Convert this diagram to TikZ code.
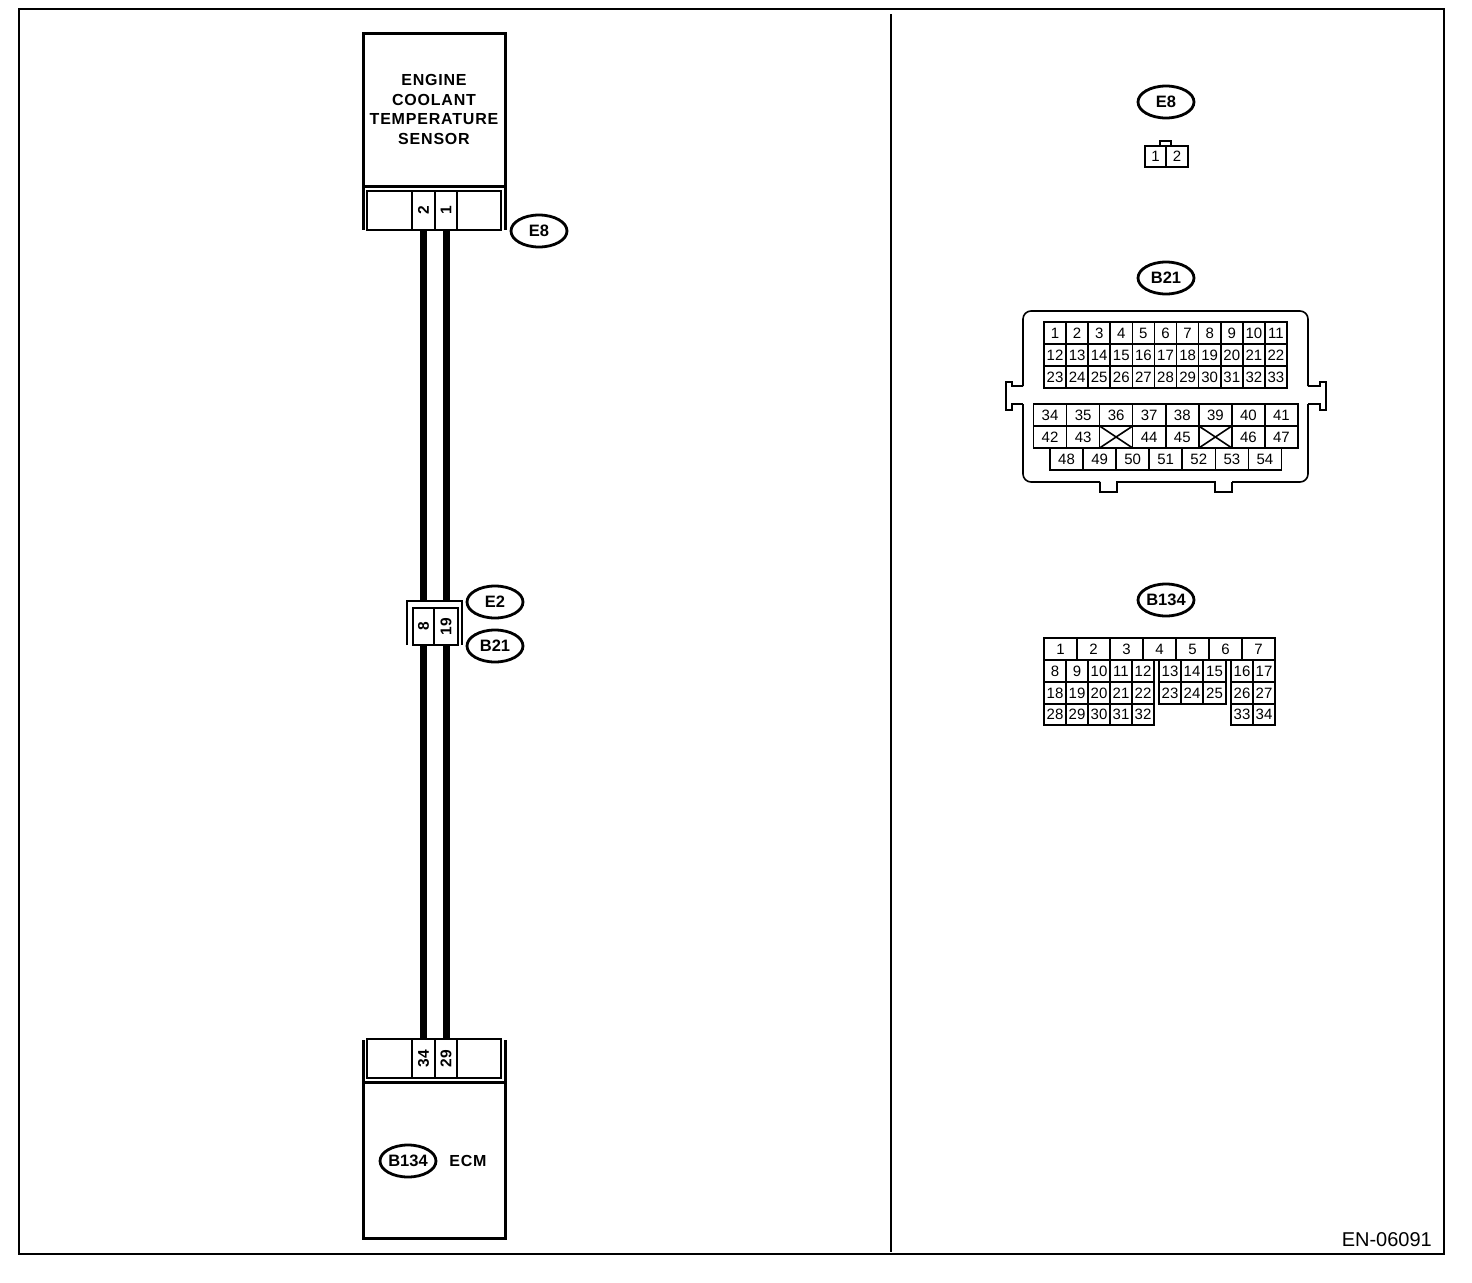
\documentclass[tikz,border=0pt]{standalone}
\usepackage{fontspec}
\setmainfont{Liberation Sans}
\usetikzlibrary{shapes.geometric}
\newcommand{\mycell}[6]{\node[gridcell,minimum width=#4pt,minimum height=#5pt] (#1) at ({#2+#4/2},{#3+#5/2}) {#6};}
\newcommand{\pincell}[6]{\node[pincellbox,minimum width=#4pt,minimum height=#5pt] (#1) at ({#2+#4/2},{#3+#5/2}) {\rotatebox{90}{#6}};}
\tikzset{
  gridcell/.style={draw=black,line width=1.6pt,inner sep=0pt,outer sep=0pt,font=\fontsize{15}{15}\selectfont},
  pincellbox/.style={draw=black,line width=2.8pt,inner sep=0pt,outer sep=0pt,font=\fontsize{15.5}{15.5}\selectfont\bfseries},
  tag/.style={draw=black,ellipse,line width=2.8pt,minimum width=56pt,minimum height=32pt,inner sep=0pt,font=\fontsize{16.5}{16.5}\selectfont\bfseries},
  heavy/.style={draw=black,line width=3pt,outer sep=0pt},
  thinline/.style={draw=black,line width=1.6pt},
  wire/.style={draw=black,line width=7pt},
  boxlabel/.style={font=\fontsize{16}{19.5}\selectfont\bfseries\addfontfeature{LetterSpace=5},align=center,inner sep=0pt},
}
\begin{document}
\begin{tikzpicture}[x=1pt,y=-1pt]
\useasboundingbox (0,0) rectangle (1472,1282);
% frame and divider
\draw[thinline] (19,9) rectangle (1444,1254);
\coordinate (divtop) at (891,14);
\coordinate (divbot) at (891,1252);
\draw[draw=black,line width=2.6pt] (divtop) -- (divbot);
\node[anchor=east,inner sep=0pt,font=\fontsize{20}{20}\selectfont] (code) at (1432,1240) {EN-06091};

% sensor
\node[heavy,minimum width=142pt,minimum height=153pt,inner sep=0pt,boxlabel] (sensor) at (434,109.5) {ENGINE\\COOLANT\\TEMPERATURE\\SENSOR};
\draw[heavy] (sensor.south west) -- ++(0,44);
\draw[heavy] (sensor.south east) -- ++(0,44);
\pincell{sl}{367}{191}{45}{39}{}
\pincell{s2}{412}{191}{23}{39}{2}
\pincell{s1}{435}{191}{22}{39}{1}
\pincell{sr}{457}{191}{44}{39}{}
\node[tag] (tagE8a) at (539,231) {E8};

% middle connector
\coordinate (mtop8) at (423.5,601);
\coordinate (mtop19) at (446,601);
\draw[thinline,line width=2pt] (407,645) -- (407,601) -- (462,601) -- (462,645);
\pincell{m8}{413}{608}{21}{37}{8}
\pincell{m19}{434}{608}{24}{37}{19}
\node[tag] (tagE2) at (495,602) {E2};
\node[tag] (tagB21a) at (495,646) {B21};

% ECM
\node[heavy,minimum width=142pt,minimum height=156pt,inner sep=0pt] (ecm) at (434,1160) {};
\draw[heavy] (ecm.north west) -- ++(0,-42);
\draw[heavy] (ecm.north east) -- ++(0,-42);
\pincell{bl}{367}{1039}{45}{39}{}
\pincell{b34}{412}{1039}{23}{39}{34}
\pincell{b29}{435}{1039}{22}{39}{29}
\pincell{br}{457}{1039}{44}{39}{}
\node[tag] (tagB134a) at (408,1161) {B134};
\node[boxlabel] (ecmlabel) at (468,1161) {ECM};

% wires
\draw[wire] (s2.south) -- (mtop8);
\draw[wire] (s1.south) -- (mtop19);
\draw[wire] (m8.south) -- (b34.north);
\draw[wire] (m19.south) -- (b29.north);

% E8 connector view
\node[tag] (tagE8b) at (1166,102) {E8};
\draw[thinline] (1160,146) -- (1160,141) -- (1171,141) -- (1171,146);
\mycell{ea1}{1145}{146}{21}{21}{1}
\mycell{ea2}{1166}{146}{22}{21}{2}

% B21 connector view
\node[tag] (tagB21b) at (1166,278) {B21};
\draw[thinline,rounded corners=8pt] (1023,386) -- (1023,311) -- (1308,311) -- (1308,386);
\draw[thinline] (1023,386) -- (1012,386) -- (1012,382) -- (1006,382) -- (1006,410) -- (1012,410) -- (1012,404) -- (1023,404);
\draw[thinline] (1308,386) -- (1320,386) -- (1320,382) -- (1326,382) -- (1326,410) -- (1320,410) -- (1320,404) -- (1308,404);
\draw[thinline,rounded corners=8pt] (1023,404) -- (1023,482) -- (1100,482);
\draw[thinline,rounded corners=8pt] (1232,482) -- (1308,482) -- (1308,404);
\draw[thinline] (1100,482) -- (1100,492) -- (1117,492) -- (1117,482) -- (1215,482) -- (1215,492) -- (1232,492) -- (1232,482);
\foreach \i in {1,...,11}{
  \pgfmathsetmacro{\cx}{1044+(\i-1)*22.09}
  \pgfmathtruncatemacro{\nb}{\i+11}
  \pgfmathtruncatemacro{\nc}{\i+22}
  \mycell{ga\i}{\cx}{322}{22.09}{22}{\i}
  \mycell{ga\nb}{\cx}{344}{22.09}{22}{\nb}
  \mycell{ga\nc}{\cx}{366}{22.09}{22}{\nc}
}
\foreach \i/\t [count=\k from 0] in {34/34,35/35,36/36,37/37,38/38,39/39,40/40,41/41}{
  \pgfmathsetmacro{\cx}{1033.5+\k*33.06}
  \mycell{ga\i}{\cx}{404}{33.06}{22}{\t}
}
\foreach \i/\t [count=\k from 0] in {42/42,43/43,x36/,44/44,45/45,x39/,46/46,47/47}{
  \pgfmathsetmacro{\cx}{1033.5+\k*33.06}
  \mycell{ga\i}{\cx}{426}{33.06}{22}{\t}
}
\foreach \n in {x36,x39}{
  \draw[thinline] (ga\n.north west) -- (ga\n.south east);
  \draw[thinline] (ga\n.north east) -- (ga\n.south west);
}
\foreach \i [count=\k from 0] in {48,...,54}{
  \pgfmathsetmacro{\cx}{1050+\k*33.06}
  \mycell{ga\i}{\cx}{448}{33.06}{22}{\i}
}

% B134 connector view
\node[tag] (tagB134b) at (1166,600) {B134};
\foreach \i in {1,...,7}{
  \pgfmathsetmacro{\cx}{1044+(\i-1)*33}
  \mycell{gc\i}{\cx}{638}{33}{22}{\i}
}
\foreach \a/\b/\c/\x/\w in {8/18/28/1044/22,9/19/29/1066/22,10/20/30/1088/22,11/21/31/1110/22,12/22/32/1132/22,16/26/33/1231/22,17/27/34/1253/22}{
  \mycell{gc\a}{\x}{660}{\w}{22}{\a}
  \mycell{gc\b}{\x}{682}{\w}{22}{\b}
  \mycell{gc\c}{\x}{704}{\w}{21}{\c}
}
\foreach \a/\b/\x/\w in {13/23/1159/22,14/24/1181/22,15/25/1203/23}{
  \mycell{gc\a}{\x}{660}{\w}{22}{\a}
  \mycell{gc\b}{\x}{682}{\w}{22}{\b}
}
\end{tikzpicture}
\end{document}
